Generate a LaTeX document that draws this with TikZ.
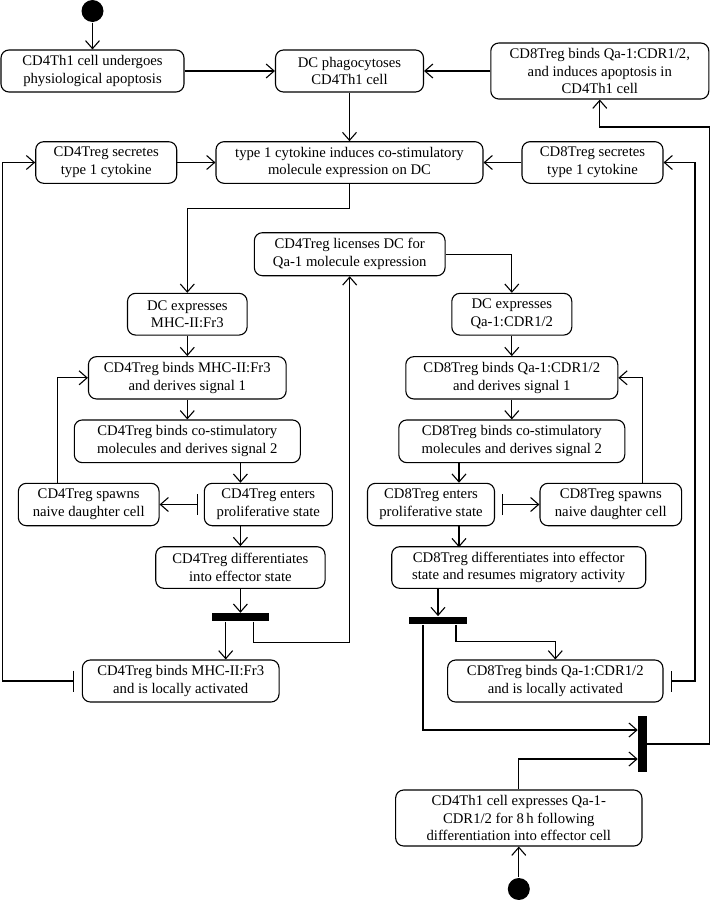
\documentclass[tikz,border=0pt]{standalone}
\usepackage{fontspec}
\setmainfont{Liberation Serif}
\usetikzlibrary{arrows.meta}

\begin{document}
\begin{tikzpicture}[x=1pt, y=-1pt, line width=1.1pt, >={Straight Barb[length=8pt,width=14pt]},
  main/.style = {draw, rounded corners=8pt, align=center, inner sep=0pt, font=\fontsize{14.7}{17.8}\selectfont},
  bar/.style = {fill=black, inner sep=0pt},
  dot/.style = {circle, fill=black, inner sep=0pt, minimum size=22pt},
  blocks/.style = {{Bar[width=21pt]}->}]
    \useasboundingbox (0,0) rectangle (710,900);

    \node[dot] (1) at (92.5,11) {};
    \node[main, minimum width=183pt, minimum height=42pt] (2) at (92.5,71) {CD4Th1 cell undergoes\\physiological apoptosis};
    \node[main, minimum width=148pt, minimum height=42pt] (3) at (349.5,71) {DC phagocytoses\\CD4Th1 cell};
    \node[main, minimum width=218pt, minimum height=56pt] (4) at (599.8,71) {CD8Treg binds Qa-1:CDR1/2,\\and induces apoptosis in\\CD4Th1 cell};

    \node[main, minimum width=141pt, minimum height=41.6pt] (5) at (106.2,162.5) {CD4Treg secretes\\type 1 cytokine};
    \node[main, minimum width=267pt, minimum height=41.6pt] (6) at (349.5,162.5) {type 1 cytokine induces co-stimulatory\\molecule expression on DC};
    \node[main, minimum width=141pt, minimum height=41.6pt] (7) at (592.5,162.5) {CD8Treg secretes\\type 1 cytokine};

    \node[main, minimum width=190.7pt, minimum height=43pt] (8) at (349.7,254.2) {CD4Treg licenses DC for\\Qa-1 molecule expression};
    \node[main, minimum width=119.6pt, minimum height=41.7pt] (9) at (187.3,314.2) {DC expresses\\MHC-II:Fr3};
    \node[main, minimum width=120pt, minimum height=41.7pt] (10) at (511.8,314.2) {DC expresses\\Qa-1:CDR1/2};

    \node[main, minimum width=197.7pt, minimum height=42.3pt] (11) at (187.3,377.8) {CD4Treg binds MHC-II:Fr3\\and derives signal 1};
    \node[main, minimum width=212pt, minimum height=42.3pt] (12) at (511.8,377.8) {CD8Treg binds Qa-1:CDR1/2\\and derives signal 1};
    \node[main, minimum width=226pt, minimum height=42.7pt] (13) at (187.3,441.3) {CD4Treg binds co-stimulatory\\molecules and derives signal 2};
    \node[main, minimum width=226pt, minimum height=42.7pt] (14) at (511.8,441.3) {CD8Treg binds co-stimulatory\\molecules and derives signal 2};

    \node[main, minimum width=140.7pt, minimum height=42.4pt] (15) at (88.7,504.5) {CD4Treg spawns\\naive daughter cell};
    \node[main, minimum width=128pt, minimum height=42.4pt] (16) at (268.3,504.5) {CD4Treg enters\\proliferative state};
    \node[main, minimum width=127pt, minimum height=42.4pt] (17) at (431,504.5) {CD8Treg enters\\proliferative state};
    \node[main, minimum width=141.7pt, minimum height=42.4pt] (18) at (610.8,504.5) {CD8Treg spawns\\naive daughter cell};

    \node[main, minimum width=169.3pt, minimum height=41.6pt] (19) at (240.4,567.5) {CD4Treg differentiates\\into effector state};
    \node[main, minimum width=254pt, minimum height=41.6pt] (20) at (518.7,567.5) {CD8Treg differentiates into effector\\state and resumes migratory activity};

    \node[bar, minimum width=57.6pt, minimum height=7.7pt] (21) at (240.4,617.2) {};
    \node[bar, minimum width=58pt, minimum height=7.7pt] (22) at (438,620.5) {};

    \node[main, minimum width=196.7pt, minimum height=42pt] (23) at (180.7,681) {CD4Treg binds MHC-II:Fr3\\and is locally activated};
    \node[main, minimum width=215.3pt, minimum height=42pt] (24) at (555.3,681) {CD8Treg binds Qa-1:CDR1/2\\and is locally activated};

    \node[bar, minimum width=8.4pt, minimum height=56.6pt] (25) at (642.5,744) {};
    \node[main, minimum width=246.3pt, minimum height=56pt] (26) at (518.8,818) {CD4Th1 cell expresses Qa-1-\\CDR1/2 for 8\,h following\\differentiation into effector cell};
    \node[dot] (27) at (518.8,889) {};

    \path[->]
    (1) edge (2)
    (2) edge (3)
    (4) edge (3)
    (3) edge (6)
    (5) edge (6)
    (7) edge (6)
    (9) edge (11)
    (11) edge (13)
    (10) edge (12)
    (12) edge (14)
    (19) edge (21)
    (27) edge (26)
    ;

    \draw[->] (6.south) -- ++(0,25) -| (9.north);
    \draw[->] (8.east) -| (10.north);
    \draw[->] (13.south -| 19.north) -- (16.north -| 19.north);
    \draw[->] (19.north |- 16.south) -- (19.north);
    \draw[blocks, shorten <=6pt] (16.west) -- (15.east);
    \draw[->] ([xshift=-31.4pt]15.north) |- (11.west);
    \draw[->] ([xshift=-14.7pt]21.south) -- ([xshift=45pt]23.north);
    \draw[->] ([xshift=13.5pt]21.south) -- ++(0,20.5) -| (8.south);
    \draw[blocks, shorten <=8pt] (23.west) -- ++(-79.3,0) |- (5.west);

    \draw[<-] ([xshift=28pt]17.north) -- ++(0,-20.6);
    \draw[->] ([xshift=28pt]17.south) -- ++(0,21);
    \draw[blocks, shorten <=6.5pt] (17.east) -- (18.west);
    \draw[->] ([xshift=31.5pt]18.north) |- (12.east);
    \draw[->] (20.south -| 22.north) -- (22.north);
    \draw[->] ([xshift=-15pt]22.south) |- ([yshift=14pt]25.west);
    \draw[->] ([xshift=18pt]22.south) -- ++(0,17) -| (24.north);
    \draw[blocks, shorten <=7pt] (24.east) -- ++(31.5,0) |- (7.east);

    \draw[->] (26.north) |- ([yshift=-15pt]25.west);
    \draw[->] (25.east) -- ++(62,0) -- ++(0,-617) -| (4.south);
  \end{tikzpicture}
\end{document}
